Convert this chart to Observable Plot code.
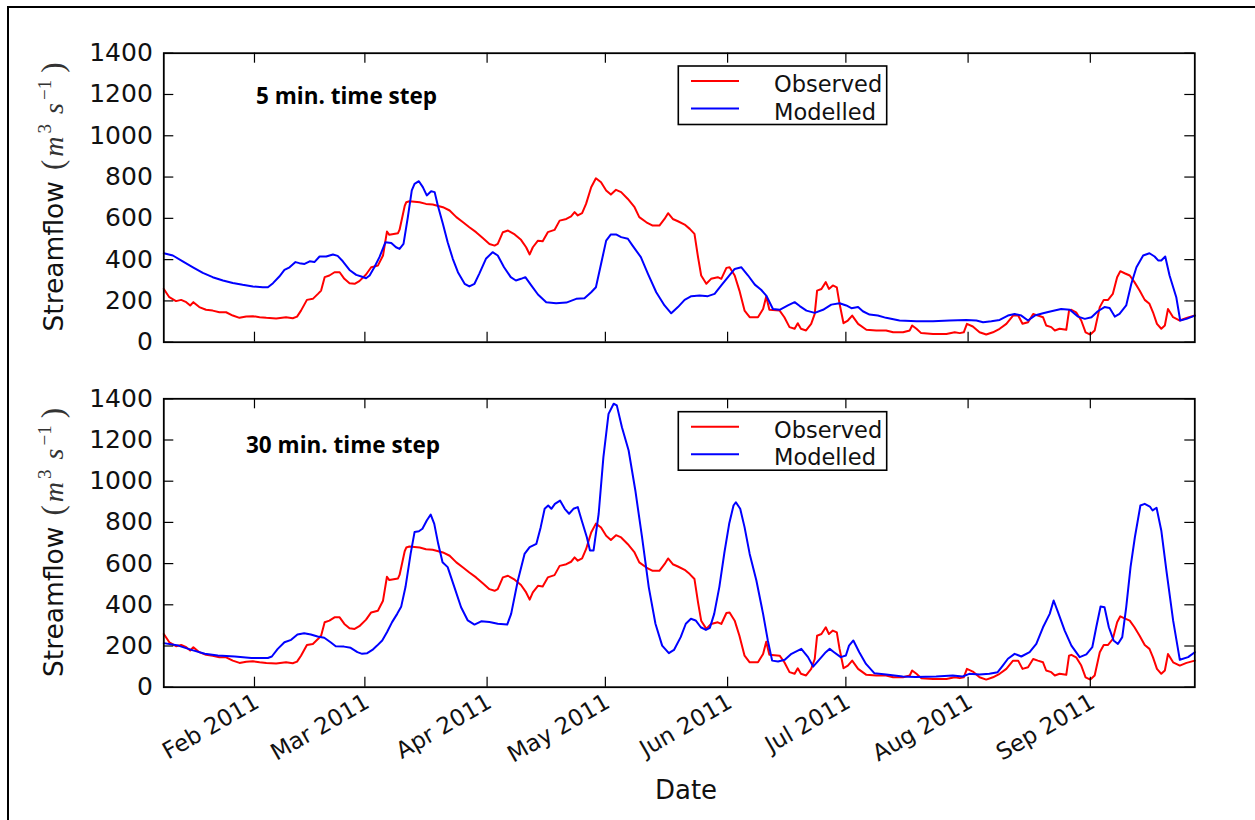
<!DOCTYPE html>
<html><head><meta charset="utf-8">
<script src="https://cdn.jsdelivr.net/npm/d3@7"></script>
<script src="https://cdn.jsdelivr.net/npm/@observablehq/plot@0.6"></script>
<style>
body{margin:0;background:#fff;}
#fig{position:relative;width:1255px;height:820px;overflow:hidden;background:#fff;}
#border{position:absolute;left:7px;top:6px;width:1400px;height:1000px;border-left:2px solid #000;border-top:2px solid #000;}
.panel{position:absolute;left:0;}
</style></head><body><div id="fig"><div id="border"></div></div>
<script>
// Day offsets from 2011-01-01 00:00 (UTC) and streamflow values (m3/s)
const obsDay = [8,9.4,11.1,12.4,13.7,14.7,15.5,17.0,18.7,20.4,22.1,23.8,25.5,27.2,28.9,30.6,32.3,34.0,36.5,39.0,40.7,41.8,42.8,44.3,45.8,47.1,47.9,48.8,50.0,51.3,52.6,53.8,55.1,56.4,57.6,59.3,60.6,62.3,63.6,64.6,65.2,67.4,67.8,69.1,69.5,70.3,72.9,74.5,76.2,78.8,80.5,82.2,83.9,85.5,87.2,88.9,90.6,91.9,92.7,94.0,95.3,97.0,98.6,99.9,100.8,101.6,102.9,104.1,105.4,107.1,108.4,110.1,111.3,112.2,113.0,114.1,115.1,116.4,117.6,118.9,120.2,121.4,122.7,124.0,125.7,127.4,128.6,130.4,132.0,133.7,135.0,135.9,137.1,138.4,140.1,141.4,142.6,143.5,144.3,145.6,146.8,148.5,149.4,150.7,151.5,152.8,154.0,155.3,156.6,158.7,160.0,160.8,161.6,164.2,165.4,166.7,168.0,168.8,169.6,170.9,172.2,173.1,173.7,174.8,175.9,176.7,177.7,178.7,179.4,180.4,181.5,182.6,184.1,186.2,188.7,191.2,193.0,195.5,197.2,197.8,198.9,200.1,203.1,206.5,208.6,209.9,210.9,211.7,213.2,214.9,216.6,218.3,220.0,221.7,223.4,224.7,225.8,227.2,228.5,229.7,231.0,231.8,233.1,234.0,235.2,236.9,237.6,238.2,239.4,240.7,241.8,243.0,244.1,245.4,246.4,247.5,248.7,249.8,250.6,251.7,253.0,254.2,255.5,256.8,258.0,258.9,259.9,261.0,261.9,262.7,264.0,265.7,267.4,269.5];
const obsQ = [258,218,199,205,194,178,194,170,157,153,145,145,129,118,124,126,121,118,115,121,116,124,153,205,210,234,250,315,323,339,339,307,286,283,296,328,363,371,420,536,520,528,545,660,678,683,678,670,667,654,638,606,581,557,533,505,476,468,476,533,541,522,496,460,425,460,492,489,533,544,589,597,609,630,614,625,670,751,794,775,735,715,738,727,694,654,606,581,565,565,597,625,597,586,570,549,525,412,323,283,307,315,307,360,363,323,250,153,121,121,161,221,157,153,121,73,65,92,65,57,89,137,250,258,291,258,275,266,186,92,105,129,89,60,57,57,48,48,57,81,65,44,40,40,48,44,48,89,76,48,37,48,65,89,129,129,89,97,137,129,121,81,73,57,65,60,153,157,145,105,48,37,57,170,205,205,234,315,344,334,323,291,250,205,186,145,89,65,81,161,121,105,118,129];

const mod5Day = [8,10.3,12.8,15.4,17.9,20.4,23.0,25.5,28.0,30.6,33.1,34.4,35.7,37.3,38.6,39.9,41.4,42.4,43.7,45.0,46.2,47.5,49.2,50.9,52.1,53.4,55.1,56.8,58.1,59.3,60.2,61.4,62.7,64.2,65.7,66.9,67.8,68.8,69.9,70.9,71.6,72.7,73.7,74.7,75.8,76.7,77.5,78.8,80.0,81.3,82.6,84.3,85.5,86.8,88.0,89.7,91.4,92.7,94.3,96.0,97.3,98.6,99.7,101.2,102.9,105.0,107.5,110.1,112.6,114.7,116.4,117.6,118.9,120.2,121.4,122.7,124.0,125.7,126.9,129.0,130.8,132.9,135.0,136.7,138.4,140.1,141.8,143.9,146.0,147.7,149.4,151.1,152.8,154.5,156.2,157.9,159.5,160.8,162.5,164.2,166.3,168.0,169.3,171.0,173.1,175.2,177.3,179.4,181.1,182.4,184.1,185.3,187.0,189.1,191.2,194.6,198.9,203.1,207.3,211.5,214.1,215.8,217.9,220.0,222.1,223.8,225.5,227.2,228.9,231.0,233.1,235.6,237.8,239.9,241.6,243.3,244.9,246.6,247.9,249.2,250.4,252.1,253.4,254.7,256.4,258.0,259.3,260.2,261.0,262.0,263.1,264.8,265.8,267.4,269.5];
const mod5Q = [431,420,392,363,336,315,299,287,278,270,266,266,286,318,350,363,388,383,379,392,388,415,415,425,418,392,350,326,318,310,323,363,412,484,480,460,452,476,606,735,767,780,751,711,731,727,662,573,484,404,339,283,270,283,331,404,436,420,363,315,299,307,315,275,231,194,189,192,210,213,242,266,379,492,522,522,509,501,468,412,331,242,178,140,170,205,223,226,223,234,275,315,355,363,323,279,254,226,161,157,178,194,175,153,142,157,182,189,178,165,170,150,134,129,118,105,102,102,105,108,105,97,102,108,129,137,129,105,129,140,150,161,157,124,113,121,150,170,166,124,137,178,283,363,420,431,415,396,396,415,323,218,105,113,129];

const mod30Day = [8,11.7,15.0,18.4,21.7,26.0,30.2,34.4,35.4,36.9,38.6,40.3,41.9,43.6,45.3,47.0,48.7,50.3,51.6,53.7,55.4,57.1,58.3,59.6,60.9,62.1,63.4,64.6,65.9,67.2,68.2,69.3,70.6,71.6,72.7,73.6,74.7,75.7,76.6,77.6,78.7,80.0,81.7,83.4,85.1,86.8,88.5,90.6,92.7,95.1,96.1,97.8,99.5,100.8,102.5,103.6,104.6,105.5,106.3,107.2,108.5,109.7,110.8,111.9,113.0,114.0,115.3,116.1,117.0,118.3,119.5,120.8,122.1,122.9,124.2,125.9,127.6,129.3,131.0,132.7,134.4,136.1,137.4,139.1,140.4,141.7,142.9,144.2,145.5,146.5,147.6,148.9,150.2,151.4,152.5,153.1,154.2,155.3,156.6,158.3,160.0,161.2,162.3,163.8,165.5,167.2,169.7,171.4,172.7,174.2,175.9,176.9,178.0,179.7,181.0,181.8,182.9,184.4,186.1,188.2,191.2,195.4,198.6,203.9,208.1,210.6,212.3,214.9,217.4,219.5,220.8,222.1,223.8,225.5,227.6,229.3,231.0,232.7,233.7,234.8,236.5,238.2,240.3,242.0,243.5,244.5,245.6,246.6,247.7,248.9,250.0,251.1,252.1,253.2,254.3,255.7,256.8,258.1,258.8,259.8,261.0,262.3,264.0,265.7,267.8,269.5];
const mod30Q = [214,202,181,162,154,149,142,142,149,186,218,230,256,262,256,246,240,218,199,197,191,170,162,165,181,202,227,267,316,356,390,486,647,753,757,769,809,838,793,696,607,583,486,388,324,304,320,316,308,304,356,518,647,680,696,777,866,882,866,890,906,866,842,866,874,809,728,664,664,842,1117,1327,1376,1368,1262,1149,955,728,486,308,202,165,181,243,308,332,324,291,278,288,356,486,655,793,882,898,866,777,647,518,356,227,129,125,133,162,186,146,100,133,170,186,170,146,154,202,227,170,113,68,62,52,49,52,57,52,65,62,65,73,105,138,162,149,170,210,291,356,421,364,275,202,146,159,194,291,392,388,291,227,210,243,388,583,728,882,890,877,858,871,761,566,324,133,146,170];

const xDomainDays = [8, 269.5];
const yTicks = [0, 200, 400, 600, 800, 1000, 1200, 1400];
const tickDates = ["2011-02-01","2011-03-01","2011-04-01","2011-05-01","2011-06-01","2011-07-01","2011-08-01","2011-09-01"];
const tickLabels = ["Feb 2011","Mar 2011","Apr 2011","May 2011","Jun 2011","Jul 2011","Aug 2011","Sep 2011"];
const seriesNames = ["Observed", "Modelled"];
const seriesColors = ["#ff0000", "#0000ff"];
const panelTitles = ["5 min. time step", "30 min. time step"];
const xLabel = "Date";

const t0 = Date.UTC(2011, 0, 1);
const toDate = d => new Date(t0 + d * 864e5);
const ticksX = tickDates.map(s => new Date(s + "T00:00:00Z"));
const obs = obsDay.map((d, i) => ({date: toDate(d), q: obsQ[i]}));

function makePanel({modDay, modQ, title, top, height, mt, mb, showX, legendY, titlePos, yLabelCy}) {
  const W = 1255, ml = 163.3, mr = 1255 - 1194.3;
  const plotH = height - mt - mb, plotW = W - ml - mr;
  const mod = modDay.map((d, i) => ({date: toDate(d), q: modQ[i]}));
  const tk = 10;
  const marks = [
    Plot.line(obs, {x: "date", y: "q", stroke: seriesColors[0], strokeWidth: 2}),
    Plot.line(mod, {x: "date", y: "q", stroke: seriesColors[1], strokeWidth: 2}),
    Plot.ruleX(ticksX, {insetTop: plotH - tk, stroke: "#000", strokeWidth: 1.2}),
    Plot.ruleX(ticksX, {insetBottom: plotH - tk, stroke: "#000", strokeWidth: 1.2}),
    Plot.ruleY(yTicks, {insetRight: plotW - tk, stroke: "#000", strokeWidth: 1.2}),
    Plot.ruleY(yTicks, {insetLeft: plotW - tk, stroke: "#000", strokeWidth: 1.2}),
    Plot.axisY(yTicks, {tickSize: 0, tickPadding: 11, fontSize: 25, label: null, fill: "#111", tickFormat: d => String(d)}),
    Plot.frame({stroke: "#000", strokeWidth: 1.8})
  ];
  if (showX) {
    marks.push(Plot.axisX(ticksX, {
      tickSize: 0, tickRotate: -30, tickPadding: 5, dx: -2, textAnchor: "end", lineAnchor: "top",
      fontSize: 23, label: null, fill: "#111",
      tickFormat: d => tickLabels[ticksX.findIndex(t => +t === +d)]
    }));
  }
  const svg = Plot.plot({
    width: W, height,
    marginLeft: ml, marginRight: mr, marginTop: mt, marginBottom: mb,
    x: {type: "utc", domain: xDomainDays.map(toDate), axis: showX ? undefined : null},
    y: {domain: [0, 1400]},
    style: {fontFamily: "'DejaVu Sans', sans-serif", background: "transparent", color: "#111", overflow: "visible"},
    marks
  });
  svg.classList.add("panel");
  svg.style.top = top + "px";
  svg.style.position = "absolute";
  const s = d3.select(svg);

  // panel title
  s.append("text").attr("x", titlePos[0]).attr("y", titlePos[1]).attr("text-anchor", "start")
    .attr("font-family", "'Open Sans', sans-serif").attr("font-weight", 700).attr("font-size", 22.5)
    .attr("fill", "#000").text(title);

  // legend
  const lg = s.append("g").attr("text-anchor", "start");
  lg.append("rect").attr("x", 678.3).attr("y", legendY).attr("width", 208.4).attr("height", 58.5)
    .attr("fill", "#fff").attr("stroke", "#000").attr("stroke-width", 1.6);
  seriesNames.forEach((nm, i) => {
    const cy = legendY + 15 + i * 27.5;
    lg.append("line").attr("x1", 691).attr("x2", 739).attr("y1", cy).attr("y2", cy)
      .attr("stroke", seriesColors[i]).attr("stroke-width", 2);
    lg.append("text").attr("x", 774).attr("y", cy + 11).attr("font-family", "'DejaVu Sans', sans-serif")
      .attr("font-size", 22.5).attr("fill", "#111").text(nm);
  });

  // y label
  const t = s.append("text")
    .attr("transform", `translate(62.5,${yLabelCy}) rotate(-90)`)
    .attr("text-anchor", "middle").attr("fill", "#111");
  const mf = "'Liberation Serif', 'DejaVu Serif', serif";
  t.append("tspan").attr("font-family", "'DejaVu Sans', sans-serif").attr("font-size", 26.5).text("Streamflow");
  t.append("tspan").attr("font-family", mf).attr("font-size", 31).attr("dx", 11).attr("fill", "#333").text("(");
  t.append("tspan").attr("font-family", mf).attr("font-style", "italic").attr("font-size", 28).attr("dx", 3).attr("fill", "#333").text("m");
  t.append("tspan").attr("font-family", mf).attr("font-size", 19).attr("dx", 3).attr("dy", -12).attr("fill", "#333").text("3");
  t.append("tspan").attr("font-family", mf).attr("font-style", "italic").attr("font-size", 28).attr("dx", 10).attr("dy", 12).attr("fill", "#333").text("s");
  t.append("tspan").attr("font-family", mf).attr("font-size", 19).attr("dx", 3).attr("dy", -12).attr("fill", "#333").text("\u22121");
  t.append("tspan").attr("font-family", mf).attr("font-size", 31).attr("dx", 7).attr("dy", 12).attr("fill", "#333").text(")");

  if (showX) {
    s.append("text").attr("x", 686).attr("y", height - mb + 112.6).attr("text-anchor", "middle")
      .attr("font-family", "'DejaVu Sans', sans-serif").attr("font-size", 26).attr("fill", "#111").text(xLabel);
  }
  return svg;
}

const fig = document.getElementById("fig");
fig.appendChild(makePanel({modDay: mod5Day, modQ: mod5Q, title: panelTitles[0], top: 0, height: 360,
  mt: 52.7, mb: 360 - 341.7, showX: false, legendY: 66, titlePos: [256, 104], yLabelCy: 197}));
fig.appendChild(makePanel({modDay: mod30Day, modQ: mod30Q, title: panelTitles[1], top: 360, height: 460,
  mt: 38.3, mb: 460 - 326.7, showX: true, legendY: 51.7, titlePos: [246, 93.3], yLabelCy: 182.5}));
</script>
</body></html>
